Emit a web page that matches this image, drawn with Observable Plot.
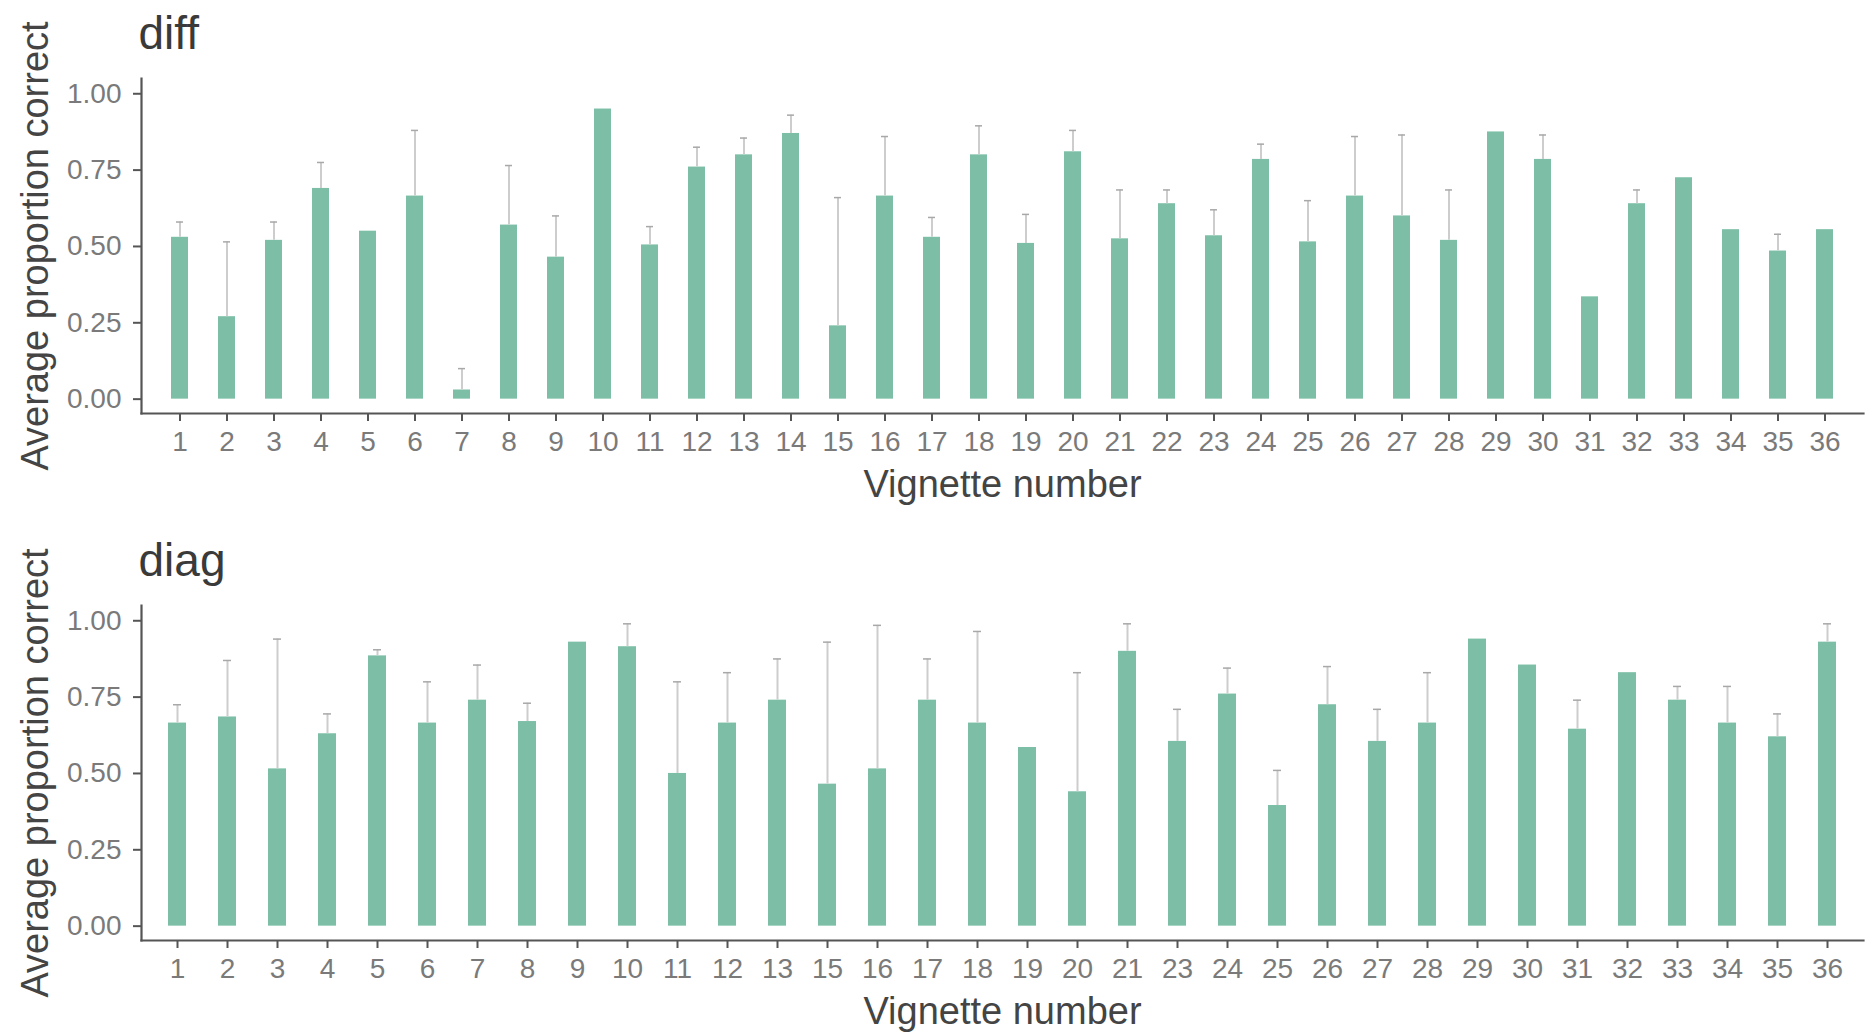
<!DOCTYPE html>
<html>
<head>
<meta charset="utf-8">
<script src="https://cdn.jsdelivr.net/npm/d3@7"></script>
<script src="https://cdn.jsdelivr.net/npm/@observablehq/plot@0.6"></script>
<style>
  html, body { margin: 0; padding: 0; background: #ffffff; }
  #chart svg { display: block; }
</style>
</head>
<body>
<div id="chart"></div>
<script>
// ---- data: panel "diff" ----
const diffVignettes = ["1","2","3","4","5","6","7","8","9","10","11","12","13","14","15","16","17","18","19","20","21","22","23","24","25","26","27","28","29","30","31","32","33","34","35","36"];
const diffMean  = [0.53,0.27,0.52,0.69,0.55,0.665,0.03,0.57,0.465,0.95,0.505,0.76,0.80,0.87,0.24,0.665,0.53,0.80,0.51,0.81,0.525,0.64,0.535,0.785,0.515,0.665,0.60,0.52,0.875,0.785,0.335,0.64,0.725,0.555,0.485,0.555];
const diffUpper = [0.58,0.515,0.58,0.775,null,0.88,0.10,0.765,0.60,null,0.565,0.825,0.855,0.93,0.66,0.86,0.595,0.895,0.605,0.88,0.685,0.685,0.62,0.835,0.65,0.86,0.865,0.685,null,0.865,null,0.685,null,null,0.54,null];

// ---- data: panel "diag" ----
const diagVignettes = ["1","2","3","4","5","6","7","8","9","10","11","12","13","15","16","17","18","19","20","21","23","24","25","26","27","28","29","30","31","32","33","34","35","36"];
const diagMean  = [0.665,0.685,0.515,0.63,0.885,0.665,0.74,0.67,0.93,0.915,0.50,0.665,0.74,0.465,0.515,0.74,0.665,0.585,0.44,0.90,0.605,0.76,0.395,0.725,0.605,0.665,0.94,0.855,0.645,0.83,0.74,0.665,0.62,0.93];
const diagUpper = [0.725,0.87,0.94,0.695,0.905,0.80,0.855,0.73,null,0.99,0.80,0.83,0.875,0.93,0.985,0.875,0.965,null,0.83,0.99,0.71,0.845,0.51,0.85,0.71,0.83,null,null,0.74,null,0.785,0.785,0.695,0.99];

const yTicks = [0, 0.25, 0.5, 0.75, 1];
const xLabel = "Vignette number";
const yLabel = "Average proportion correct";

const FONT = "'Liberation Sans', Arial, Helvetica, sans-serif";
const BAR = "#7cbfa6";

function panel(title, cats, mean, upper, opts) {
  const data = cats.map((v, i) => ({v, mean: mean[i], upper: upper[i]}));
  const withErr = data.filter(d => d.upper != null);
  return Plot.plot({
    width: 1865,
    height: opts.height,
    marginTop: opts.marginTop,
    marginBottom: opts.marginBottom,
    marginLeft: 141,
    marginRight: 2,
    style: {fontFamily: FONT, background: "#ffffff", overflow: "visible"},
    x: {type: "band", domain: cats, paddingInner: 0.643, paddingOuter: 0.421, label: null},
    y: {domain: [-0.047, 1.05], label: null},
    marks: [
      Plot.barY(data, {x: "v", y: "mean", fill: BAR}),
      Plot.ruleX(withErr, {x: "v", y1: "mean", y2: "upper", stroke: "#cdcdcd", strokeWidth: 2}),
      Plot.tickY(withErr, {x: "v", y: "upper", stroke: "#a8a8a8", strokeWidth: 1.5, insetLeft: 5, insetRight: 5}),
      Plot.frame({anchor: "left", stroke: "#555555", strokeWidth: 2.2}),
      Plot.frame({anchor: "bottom", stroke: "#555555", strokeWidth: 2.2}),
      Plot.axisY({ticks: yTicks, tickFormat: d3.format(".2f"), tickSize: 8, tickPadding: 12,
                  fontSize: 28, stroke: "#555555", strokeWidth: 2, fill: "#7a7a7a", label: null}),
      Plot.axisX({tickSize: 8, tickPadding: 10, fontSize: 28, stroke: "#555555", strokeWidth: 2,
                  fill: "#7a7a7a", label: null}),
      Plot.text([title], {frameAnchor: "top-left", textAnchor: "start", lineAnchor: "bottom",
                          dx: -3, dy: -30, fontSize: 46, fill: "#3a3a3a"}),
      Plot.text([xLabel], {frameAnchor: "bottom", textAnchor: "middle", lineAnchor: "bottom",
                           dy: 83, fontSize: 38, fill: "#444444"}),
      Plot.text([yLabel], {frameAnchor: "left", textAnchor: "middle", lineAnchor: "middle",
                           rotate: -90, dx: -106, fontSize: 38, fill: "#444444"})
    ]
  });
}

const chart = document.getElementById("chart");
chart.appendChild(panel("diff", diffVignettes, diffMean, diffUpper, {height: 516, marginTop: 78, marginBottom: 103}));
chart.appendChild(panel("diag", diagVignettes, diagMean, diagUpper, {height: 517, marginTop: 89, marginBottom: 93}));
</script>
</body>
</html>
